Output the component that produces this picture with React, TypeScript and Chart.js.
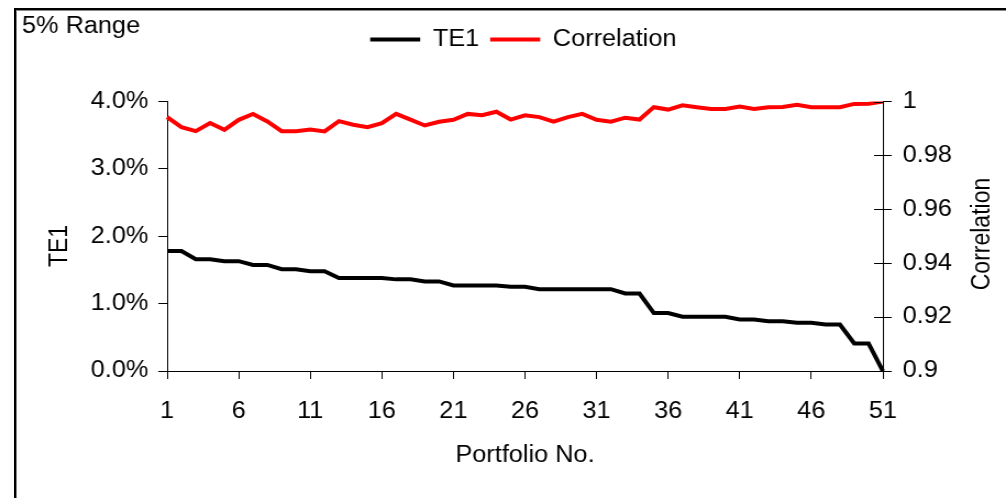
import { useEffect, useRef } from 'react';
import { Chart, registerables } from 'chart.js';

Chart.register(...registerables);

// ---- data ----
const portfolios = [
  '1','2','3','4','5','6','7','8','9','10',
  '11','12','13','14','15','16','17','18','19','20',
  '21','22','23','24','25','26','27','28','29','30',
  '31','32','33','34','35','36','37','38','39','40',
  '41','42','43','44','45','46','47','48','49','50','51',
];
// TE1 in percent
const te1 = [
  1.78, 1.78, 1.66, 1.66, 1.63, 1.63, 1.575, 1.575, 1.51, 1.51,
  1.48, 1.48, 1.38, 1.38, 1.38, 1.38, 1.36, 1.36, 1.33, 1.33,
  1.27, 1.27, 1.27, 1.27, 1.25, 1.25, 1.215, 1.215, 1.215, 1.215,
  1.215, 1.215, 1.15, 1.15, 0.86, 0.86, 0.805, 0.805, 0.805, 0.805,
  0.765, 0.765, 0.74, 0.74, 0.715, 0.715, 0.69, 0.69, 0.41, 0.41, 0,
];
const correlation = [
  0.9942, 0.9905, 0.989, 0.992, 0.9895, 0.9932, 0.9954, 0.9926, 0.989, 0.989,
  0.9896, 0.9889, 0.9927, 0.9914, 0.9905, 0.992, 0.9954, 0.9933, 0.9911, 0.9925,
  0.9932, 0.9954, 0.9949, 0.9962, 0.9933, 0.9949, 0.9942, 0.9925, 0.9942, 0.9954,
  0.9932, 0.9925, 0.994, 0.9933, 0.9979, 0.997, 0.9986, 0.9979, 0.9972, 0.9972,
  0.9981, 0.9972, 0.9979, 0.998, 0.9988, 0.9979, 0.9979, 0.9979, 0.9991, 0.9992, 1.0,
];
const seriesNames = ['TE1', 'Correlation'];
const chartTitle = '5% Range';
const xTitle = 'Portfolio No.';
const leftTitle = 'TE1';
const rightTitle = 'Correlation';
const leftTicks = { min: 0, max: 4, step: 1 };
const rightTicks = { min: 0.9, max: 1, step: 0.02 };

// ---- layout ----
const PAGE_W = 1006;
const PAGE_H = 498;
const CANVAS_W = 915;
const S = PAGE_W / CANVAS_W;
const FONT = "'Liberation Sans', Arial, sans-serif";
const FS = 23;

const extras = {
  id: 'extras',
  afterDraw(chart: any) {
    const { ctx, chartArea, scales } = chart;
    ctx.save();
    ctx.fillStyle = '#000';
    ctx.font = `${FS}px ${FONT}`;
    ctx.textBaseline = 'middle';
    ctx.textAlign = 'left';
    ctx.fillText(chartTitle, 22 / S, 27);

    ctx.textAlign = 'center';
    ctx.save();
    ctx.translate(60 / S, 246);
    ctx.rotate(-Math.PI / 2);
    ctx.fillText(leftTitle, 0, 0);
    ctx.restore();

    ctx.save();
    ctx.translate(982 / S, 234);
    ctx.rotate(-Math.PI / 2);
    ctx.fillText(rightTitle, 0, 0);
    ctx.restore();

    const y1 = scales.y1;
    ctx.strokeStyle = '#000';
    ctx.lineWidth = 1;
    y1.ticks.forEach((_t: any, i: number) => {
      const py = Math.round(y1.getPixelForTick(i)) + 0.5;
      ctx.beginPath();
      ctx.moveTo(chartArea.right - 8, py);
      ctx.lineTo(chartArea.right, py);
      ctx.stroke();
    });
    ctx.restore();
  },
};

export default function App() {
  const ref = useRef<HTMLCanvasElement>(null);

  useEffect(() => {
    if (!ref.current) return;
    Chart.defaults.font.family = FONT;
    Chart.defaults.font.size = FS;
    Chart.defaults.color = '#000';
    const chart = new Chart(ref.current, {
      type: 'line',
      data: {
        labels: portfolios,
        datasets: [
          {
            label: seriesNames[0],
            data: te1,
            borderColor: '#000000',
            backgroundColor: '#000000',
            borderWidth: 4,
            pointRadius: 0,
            tension: 0,
            yAxisID: 'y',
            xAxisID: 'x',
          },
          {
            label: seriesNames[1],
            data: correlation,
            borderColor: '#ff0000',
            backgroundColor: '#ff0000',
            borderWidth: 4,
            pointRadius: 0,
            tension: 0,
            yAxisID: 'y1',
            xAxisID: 'x',
          },
        ],
      },
      options: {
        responsive: false,
        devicePixelRatio: 1,
        animation: false,
        events: [],
        layout: { padding: { left: 37, top: 18, right: 0, bottom: 27 } },
        plugins: {
          title: { display: false },
          tooltip: { enabled: false },
          legend: {
            display: true,
            position: 'top',
            align: 'center',
            labels: {
              usePointStyle: true,
              pointStyle: 'line',
              pointStyleWidth: 50 / S,
              boxHeight: FS,
              padding: 10,
              color: '#000',
              font: { size: FS, family: FONT },
            },
          },
        },
        scales: {
          x: {
            type: 'category',
            position: 'bottom',
            offset: false,
            afterFit: (s: any) => { s.height = 100; },
            grid: {
              display: true,
              drawOnChartArea: false,
              drawTicks: true,
              tickLength: 8,
              color: (c: any) => (c.index % 5 === 0 ? '#000' : 'rgba(0,0,0,0)'),
              tickColor: (c: any) => (c.index % 5 === 0 ? '#000' : 'rgba(0,0,0,0)'),
            },
            border: { display: true, color: '#000', width: 1 },
            ticks: {
              autoSkip: false,
              maxRotation: 0,
              minRotation: 0,
              padding: 19,
              color: '#000',
              font: { size: FS, family: FONT },
              callback: (_v: any, i: number) => (i % 5 === 0 ? portfolios[i] : ''),
            },
            title: {
              display: true,
              text: xTitle,
              color: '#000',
              font: { size: FS, family: FONT },
              padding: { top: 4, bottom: 2 },
            },
          },
          xTop: {
            type: 'category',
            position: 'top',
            display: true,
            afterFit: (s: any) => { s.height = 40.5; },
            grid: { display: false },
            border: { display: false },
            ticks: { display: false },
          },
          y: {
            type: 'linear',
            position: 'left',
            min: leftTicks.min,
            max: leftTicks.max,
            afterFit: (s: any) => { s.width = 115; },
            grid: {
              display: true,
              drawOnChartArea: false,
              tickLength: 8,
              color: '#000',
              tickColor: '#000',
            },
            border: { display: true, color: '#000', width: 1 },
            ticks: {
              stepSize: leftTicks.step,
              padding: 9,
              color: '#000',
              font: { size: FS, family: FONT },
              callback: (v: any) => Number(v).toFixed(1) + '%',
            },
            title: { display: false },
          },
          y1: {
            type: 'linear',
            position: 'right',
            min: rightTicks.min,
            max: rightTicks.max,
            afterFit: (s: any) => { s.width = CANVAS_W - 803; },
            grid: {
              display: true,
              drawOnChartArea: false,
              tickLength: 8,
              color: '#000',
              tickColor: '#000',
            },
            border: { display: true, color: '#000', width: 1 },
            ticks: {
              stepSize: rightTicks.step,
              padding: 10,
              color: '#000',
              font: { size: FS, family: FONT },
              callback: (v: any) => String(Math.round(Number(v) * 100) / 100),
            },
            title: { display: false },
          },
        },
      },
      plugins: [extras],
    });
    return () => chart.destroy();
  }, []);

  return (
    <div
      style={{
        position: 'fixed',
        left: 0,
        top: 0,
        width: PAGE_W,
        height: PAGE_H,
        background: '#fff',
        overflow: 'hidden',
      }}
    >
      <div
        style={{
          position: 'absolute',
          left: 14,
          top: 8,
          width: PAGE_W,
          height: PAGE_H,
          borderTop: '2px solid #000',
          borderLeft: '2px solid #000',
          boxShadow: 'inset 1px 1px 0 #888',
        }}
      />
      <canvas
        ref={ref}
        width={CANVAS_W}
        height={PAGE_H}
        style={{
          position: 'absolute',
          left: 0,
          top: 0,
          width: PAGE_W + 'px',
          height: PAGE_H + 'px',
        }}
      />
    </div>
  );
}
